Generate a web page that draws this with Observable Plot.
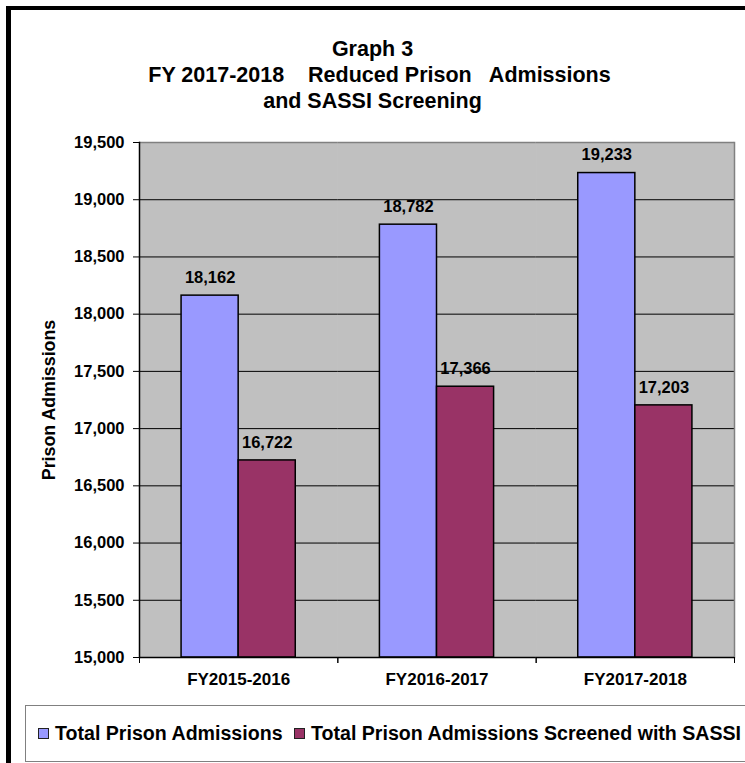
<!DOCTYPE html>
<html>
<head>
<meta charset="utf-8">
<script src="https://cdn.jsdelivr.net/npm/d3@7"></script>
<script src="https://cdn.jsdelivr.net/npm/@observablehq/plot@0.6"></script>
<style>
  html, body { margin: 0; padding: 0; background: #fff; overflow: hidden; width: 745px; height: 763px; }
  body { position: relative; font-family: "Liberation Sans", Arial, sans-serif; font-weight: bold; color: #000; }
  #outer { position: absolute; left: 6px; top: 6px; width: 800px; height: 800px; border-left: 5px solid #000; border-top: 4px solid #000; box-sizing: border-box; }
  #title { position: absolute; left: 0; width: 745px; top: 36px; text-align: center; font-size: 21.5px; line-height: 26px; white-space: pre; }
  #title div:nth-child(2) { position: relative; left: 7px; }
  #chart { position: absolute; left: 0; top: 120px; }
  #legend { position: absolute; left: 25px; top: 705px; width: 760px; height: 57px; border: 1.5px solid #808080; box-sizing: border-box; white-space: nowrap; font-size: 19.6px; }
  .item { position: absolute; top: 16px; line-height: 22px; }
  .sw { display: inline-block; width: 9px; height: 9px; border: 1px solid #222; margin-right: 6px; vertical-align: 1px; }
</style>
</head>
<body>
<div id="outer"></div>
<div id="title"></div>
<div id="chart"></div>
<div id="legend"></div>
<script>
const titleLines = ["Graph 3", "FY 2017-2018    Reduced Prison   Admissions", "and SASSI Screening"];
const categories = ["FY2015-2016", "FY2016-2017", "FY2017-2018"];
const seriesNames = ["Total Prison Admissions", "Total Prison Admissions Screened with SASSI"];
const seriesColors = ["#9999FF", "#993366"];
const totalAdmissions = [18162, 18782, 19233];
const screenedWithSASSI = [16722, 17366, 17203];
const yTicks = [15000, 15500, 16000, 16500, 17000, 17500, 18000, 18500, 19000, 19500];
const yLabel = "Prison Admissions";

const data = categories.flatMap((c, i) => [
  {cat: c, series: seriesNames[0], value: totalAdmissions[i]},
  {cat: c, series: seriesNames[1], value: screenedWithSASSI[i]}
]);

const titleEl = document.getElementById("title");
titleLines.forEach(t => {
  const d = document.createElement("div");
  d.textContent = t;
  titleEl.appendChild(d);
});

const width = 745, height = 580, mL = 139, mR = 11, mT = 22, mB = 43;
const halfStep = (width - mL - mR) / categories.length / 2;
const fmt = d3.format(",");
const yMin = yTicks[0], yMax = yTicks[yTicks.length - 1];

const chart = Plot.plot({
  width, height,
  marginLeft: mL, marginRight: mR, marginTop: mT, marginBottom: mB,
  style: {fontFamily: "'Liberation Sans', Arial, sans-serif", fontWeight: "bold", fontSize: "16.5px", background: "transparent", color: "#000", overflow: "visible"},
  fx: {domain: categories, padding: 0, round: false, label: null},
  x: {domain: seriesNames, paddingInner: 0, paddingOuter: 0.737, round: false, axis: null},
  y: {domain: [yMin, yMax]},
  color: {domain: seriesNames, range: seriesColors},
  marks: [
    Plot.frame({fill: "#C0C0C0", stroke: "#C0C0C0", strokeWidth: 1}),
    Plot.ruleY(yTicks.slice(1, -1), {stroke: "#000", strokeWidth: 1}),
    Plot.ruleY([yMax], {stroke: "#808080", strokeWidth: 1.5}),
    Plot.frame({anchor: "right", facetAnchor: "right", stroke: "#808080", strokeWidth: 1.5}),
    Plot.barY(data, {fx: "cat", x: "series", y1: yMin, y2: "value", fill: "series", stroke: "#000", strokeWidth: 1.5}),
    Plot.text(data, {fx: "cat", x: "series", y: "value", text: d => fmt(d.value), dy: -18, fontSize: 16.5, fontWeight: "bold", fill: "#000"}),
    Plot.ruleY([yMin], {stroke: "#000", strokeWidth: 1.5}),
    Plot.frame({anchor: "left", facetAnchor: "left", stroke: "#000", strokeWidth: 1.5}),
    Plot.axisY({ticks: yTicks, tickFormat: fmt, tickSize: 6, tickPadding: 9, stroke: "#000", label: null, fontSize: 16.5}),
    Plot.axisY({ticks: [], label: yLabel, labelAnchor: "center", labelArrow: "none", labelOffset: 97, fontSize: 17.8}),
    Plot.axisFx({anchor: "bottom", tickSize: 0, tickPadding: 15, label: null, fontSize: 17}),
    Plot.axisFx({anchor: "bottom", tickSize: 6, tickFormat: () => "", label: null, dx: -halfStep, stroke: "#000"}),
    Plot.axisFx({anchor: "bottom", tickSize: 6, tickFormat: () => "", label: null, dx: halfStep, stroke: "#000"})
  ]
});
document.getElementById("chart").appendChild(chart);

const legend = document.getElementById("legend");
const legendX = [12, 268];
seriesNames.forEach((s, i) => {
  const item = document.createElement("div");
  item.className = "item";
  item.style.left = legendX[i] + "px";
  const sw = document.createElement("span");
  sw.className = "sw";
  sw.style.background = seriesColors[i];
  item.appendChild(sw);
  item.appendChild(document.createTextNode(s));
  legend.appendChild(item);
});
</script>
</body>
</html>
